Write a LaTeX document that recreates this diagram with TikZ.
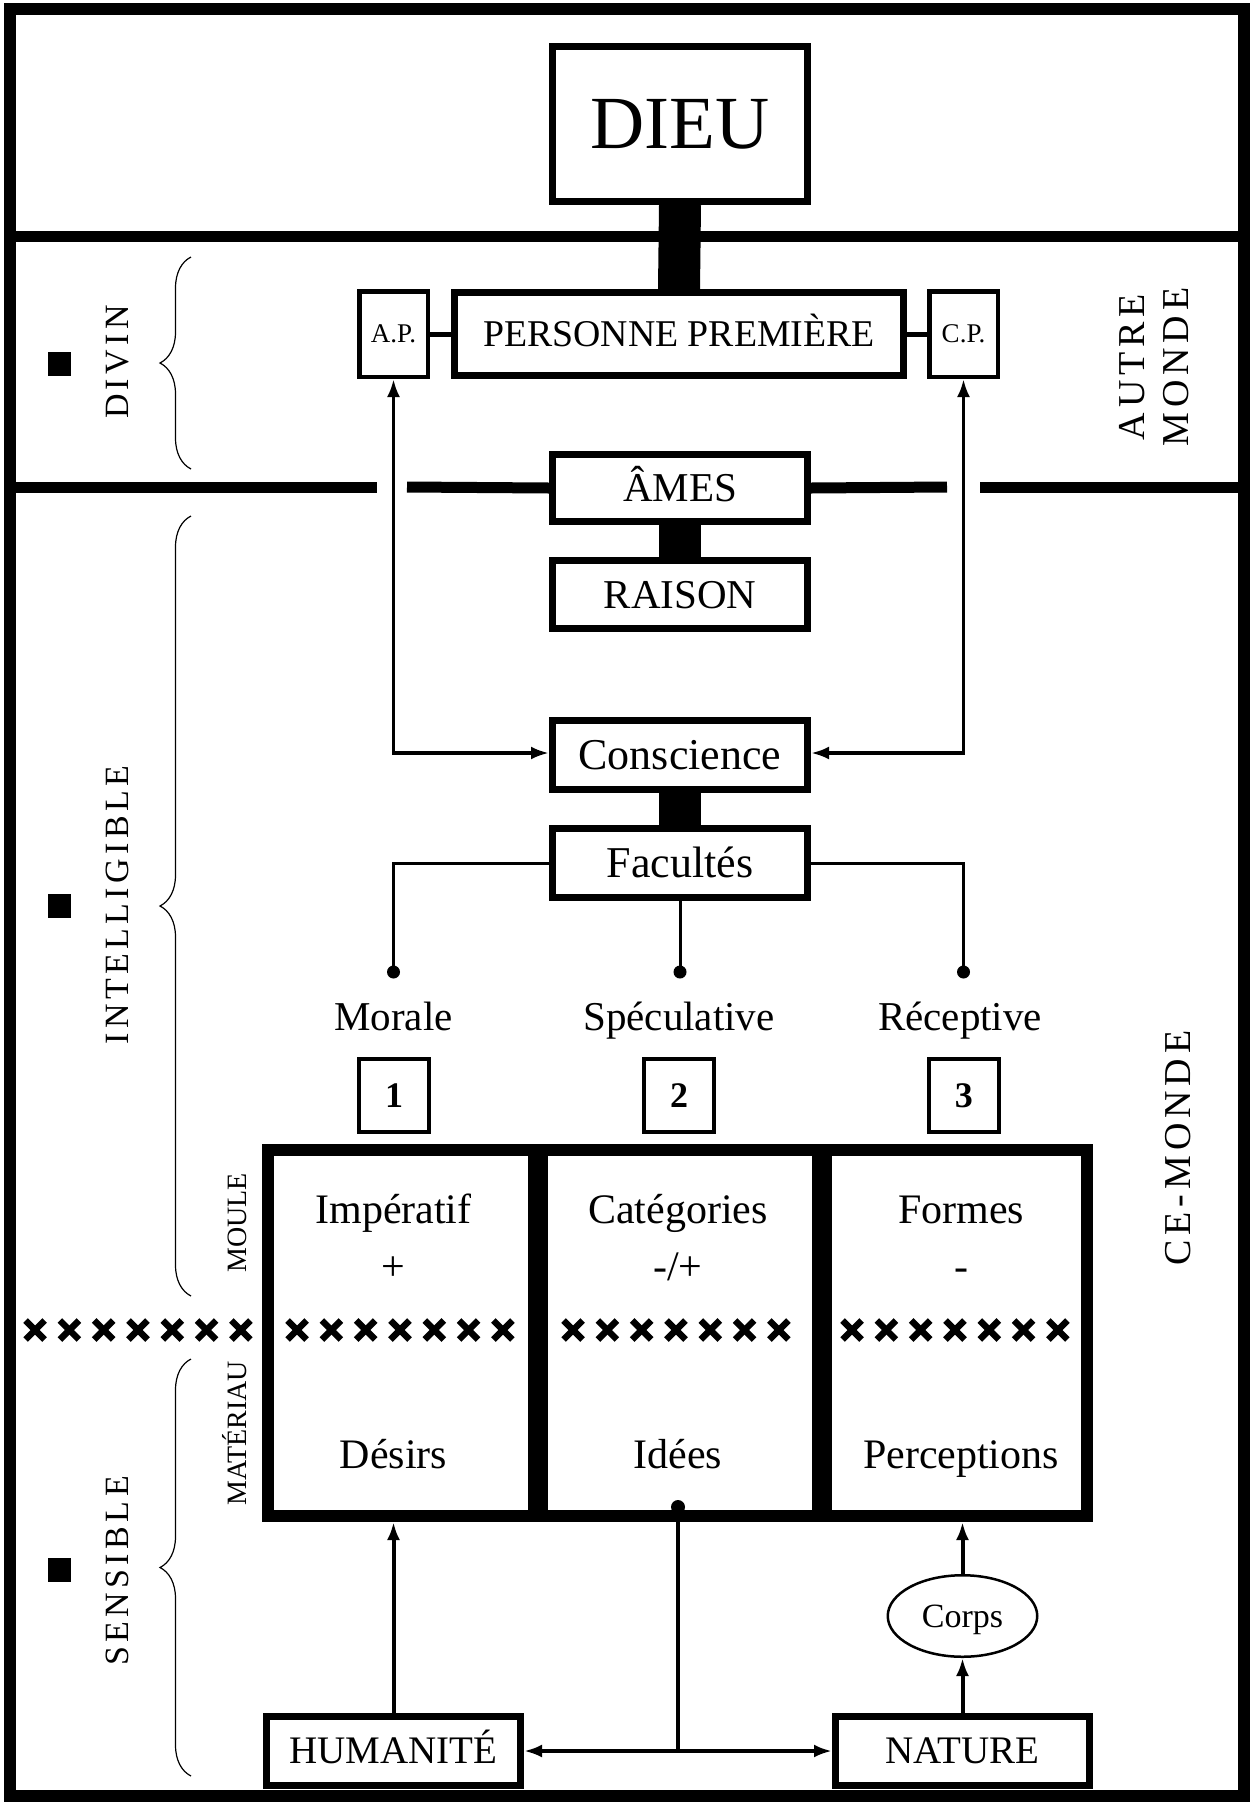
\documentclass[tikz,border=0pt]{standalone}
\usepackage{fontspec}
\setmainfont{Liberation Serif}
\newfontfamily\spacedfont[LetterSpace=13]{Liberation Serif}
\usetikzlibrary{arrows.meta,decorations.pathreplacing,shapes.geometric}
\newcommand\fsz[1]{\fontsize{#1}{#1}\selectfont}
\begin{document}
\begin{tikzpicture}[x=1pt,y=-1pt,
  box/.style={draw,fill=white,line width=7pt,inner sep=0pt,text depth=0pt},
  smallbox/.style={draw,fill=white,line width=4.5pt,inner sep=0pt,text depth=0pt},
  heavy/.style={line width=42pt},
  sepline/.style={line width=11pt},
  arr/.style={line width=4pt,-{Latex[length=18pt,width=13pt]}},
  darr/.style={line width=3.5pt,{Latex[length=18pt,width=13pt]}-{Latex[length=18pt,width=13pt]}},
  thinln/.style={line width=3pt},
  lbl/.style={inner sep=0pt,anchor=base},
  side/.style={rotate=90,inner sep=0pt,text depth=0pt,font=\spacedfont\fsz{34}},
  brc/.style={decorate,decoration={brace,amplitude=31pt},line width=1.2pt},
  crossln/.style={line width=6.5pt}
]
\fill[white] (0,0) rectangle (1250,1802);
\useasboundingbox (0,0) rectangle (1250,1802);

% separators
\draw[sepline] (10,236.5) -- (1243.5,236.5);
\coordinate (g1) at (377,487);
\coordinate (g2) at (407,487);
\coordinate (g3) at (947,487);
\coordinate (g4) at (980,487);
\coordinate (fl) at (10,487);
\coordinate (fr) at (1243.5,487);

% top nodes
\node[box,minimum width=255pt,minimum height=155pt,text height=49.6pt,font=\fsz{75}] (dieu) at (680,124) {DIEU};
\node[box,minimum width=449pt,minimum height=83pt,text height=25pt,font=\fsz{37.8}] (pp) at (679,334) {PERSONNE PREMIÈRE};
\node[smallbox,minimum width=68.5pt,minimum height=85.5pt,text height=17.9pt,font=\fsz{27}] (ap) at (393.5,334) {A.P.};
\node[smallbox,minimum width=68.5pt,minimum height=85.5pt,text height=17.9pt,font=\fsz{27}] (cp) at (963.5,334) {C.P.};
\node[box,minimum width=255pt,minimum height=67pt,text height=27.1pt,font=\fsz{41}] (ames) at (680,488) {ÂMES};
\node[box,minimum width=255pt,minimum height=68pt,text height=27.1pt,font=\fsz{41}] (raison) at (680,594.5) {RAISON};
\node[box,minimum width=255pt,minimum height=69pt,text height=29.1pt,font=\fsz{44}] (cons) at (680,755) {Conscience};
\node[box,minimum width=255pt,minimum height=69pt,text height=29.1pt,font=\fsz{44}] (fac) at (680,863) {Facultés};

\draw[sepline] (fl) -- (g1);
\draw[sepline] (g2) -- (ames.west);
\draw[sepline] (ames.east) -- (g3);
\draw[sepline] (g4) -- (fr);

\draw[heavy] (dieu.south) -- (pp.north);
\draw[heavy] (ames.south) -- (raison.north);
\draw[heavy] (cons.south) -- (fac.north);
\draw[line width=5pt] (ap.east) -- (pp.west);
\draw[line width=5pt] (pp.east) -- (cp.west);

% arrows to A.P. / C.P. and Conscience
\coordinate (cl) at (393.5,753);
\coordinate (cr) at (963.5,753);
\draw[darr] (ap.south) -- (cl) -- (cl -| cons.west);
\draw[darr] (cp.south) -- (cr) -- (cr -| cons.east);

% facultes branches
\coordinate (dl) at (393.5,972);
\coordinate (dc) at (680,972);
\coordinate (dr) at (963.5,972);
\draw[thinln] (fac.west) -| (dl);
\draw[thinln] (fac.south) -- (dc);
\draw[thinln] (fac.east) -| (dr);
\fill (dl) circle (6.5pt);
\fill (dc) circle (6.5pt);
\fill (dr) circle (6.5pt);

\node[lbl,font=\fsz{41}] (mor) at (393.5,1030) {Morale};
\node[lbl,font=\fsz{41}] (spe) at (679,1030) {Spéculative};
\node[lbl,font=\fsz{41}] (rec) at (960,1030) {Réceptive};

\node[smallbox,line width=4pt,minimum width=70pt,minimum height=73pt,text height=24.3pt,font=\bfseries\fsz{36}] (n1) at (394,1095.5) {1};
\node[smallbox,line width=4pt,minimum width=70pt,minimum height=73pt,text height=24.3pt,font=\bfseries\fsz{36}] (n2) at (679,1095.5) {2};
\node[smallbox,line width=4pt,minimum width=70pt,minimum height=73pt,text height=24.3pt,font=\bfseries\fsz{36}] (n3) at (963.75,1095.5) {3};

% big grid
\node[draw,line width=12pt,minimum width=819pt,minimum height=366pt,inner sep=0pt] (grid) at (677.5,1333) {};
\draw[line width=20pt] (537.5,1150) -- (537.5,1516);
\draw[line width=20pt] (822,1150) -- (822,1516);

\node[lbl,font=\fsz{42}] (imp) at (393.5,1223) {Impératif};
\node[lbl,font=\fsz{42}] (cat) at (678,1223) {Catégories};
\node[lbl,font=\fsz{42}] (for) at (961,1223) {Formes};
\node[lbl,font=\fsz{42}] (s1) at (393.5,1280) {+};
\node[lbl,font=\fsz{42}] (s2) at (678,1280) {-/+};
\node[lbl,font=\fsz{42}] (s3) at (961,1280) {-};
\node[lbl,font=\fsz{42}] (des) at (393.5,1468) {Désirs};
\node[lbl,font=\fsz{42}] (ide) at (678,1468) {Idées};
\node[lbl,font=\fsz{42}] (per) at (961,1468) {Perceptions};

% crosses
\foreach \c in {138,400,676,955} {
  \foreach \k in {-3,...,3} {
    \draw[crossln] ({\c+\k*34.3-9.5},1320.5) -- ++(19,19);
    \draw[crossln] ({\c+\k*34.3-9.5},1339.5) -- ++(19,-19);
  }
}

\node[rotate=90,inner sep=0pt,text height=18.5pt,text depth=0pt,font=\fsz{28}] (moule) at (237,1223) {MOULE};
\node[rotate=90,inner sep=0pt,text height=18.5pt,text depth=0pt,font=\fsz{28}] (mat) at (237,1433.5) {MATÉRIAU};

% left labels
\fill (48,352) rectangle (71,376);
\fill (48,894) rectangle (71,918);
\fill (48,1558) rectangle (71,1582);
\node[side,text height=22.5pt] (divin) at (117,362) {DIVIN};
\node[side,text height=22.5pt] (intel) at (117,905) {INTELLIGIBLE};
\node[side,text height=22.5pt] (sens) at (117,1571) {SENSIBLE};
\draw[brc] (191,469) -- (191,257);
\draw[brc] (191,1296) -- (191,516);
\draw[brc] (191,1776) -- (191,1359);

% right labels
\node[rotate=90,inner sep=0pt,align=center,font=\spacedfont\fontsize{38}{44.5}\selectfont] (autre) at (1154,367) {AUTRE\\MONDE};
\node[rotate=90,inner sep=0pt,text height=25.2pt,text depth=0pt,font=\spacedfont\fsz{38}] (ce) at (1178,1148) {CE-MONDE};

% bottom
\node[box,minimum width=254pt,minimum height=69pt,text height=25.8pt,font=\fsz{39}] (hum) at (393.5,1751) {HUMANITÉ};
\node[box,minimum width=254pt,minimum height=69pt,text height=25.8pt,font=\fsz{39}] (nat) at (962.5,1751) {NATURE};
\node[draw,ellipse,fill=white,line width=2.5pt,minimum width=149.5pt,minimum height=81.5pt,inner sep=0pt,text height=22.5pt,text depth=0pt,font=\fsz{34}] (corps) at (962.5,1616) {Corps};

\coordinate (tgtH) at (393.5,1522);
\coordinate (tgtN) at (962.5,1522);
\coordinate (idt) at (678,1507);
\coordinate (junc) at (678,1751);
\draw[arr] (hum.north) -- (tgtH);
\draw[arr] (nat.north) -- (corps.south);
\draw[arr] (corps.north) -- (tgtN);
\fill (idt) circle (7pt);
\draw[line width=4pt] (idt) -- (junc);
\draw[arr] (junc) -- (hum.east);
\draw[arr] (junc) -- (nat.west);

% frame
\draw[line width=12pt] (10,9) rectangle (1243.5,1796);
\end{tikzpicture}
\end{document}
